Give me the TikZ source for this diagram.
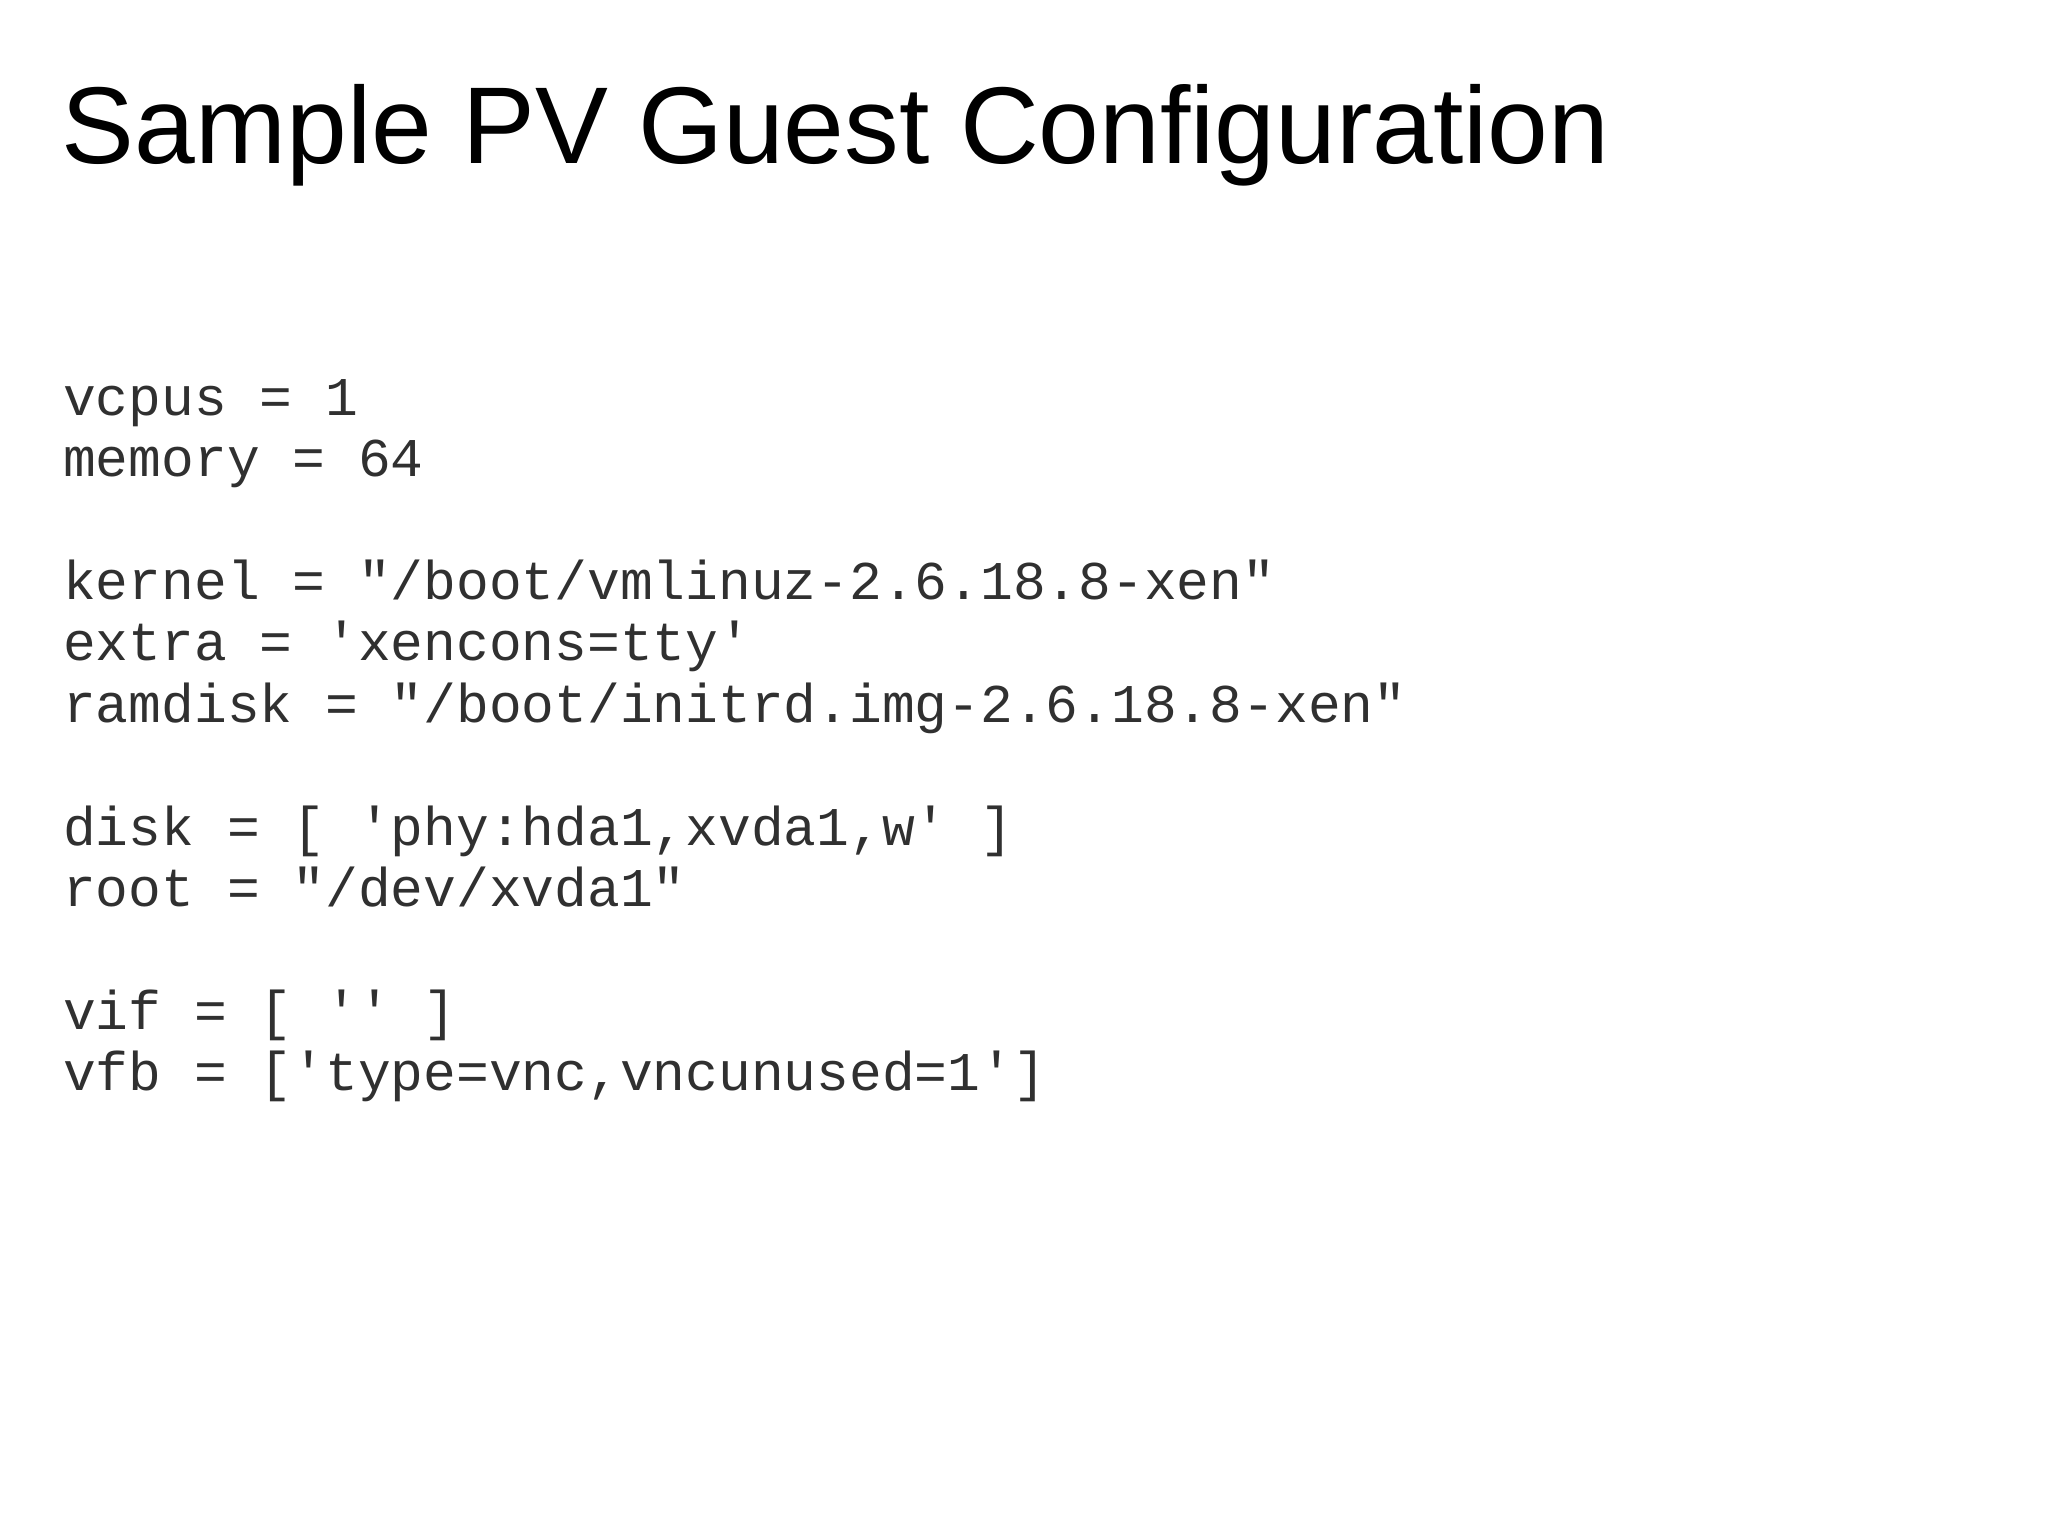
\documentclass[tikz,border=0pt]{standalone}
\usepackage{fontspec}
\setmainfont{Liberation Sans}
\newfontfamily\codefont{Liberation Mono}
\definecolor{codegray}{HTML}{303030}
\begin{document}
\begin{tikzpicture}[x=0.5pt,y=-0.5pt,
  codeline/.style={anchor=base west,inner sep=0pt,font=\codefont\fontsize{20.9}{23.5}\selectfont,text=codegray}]
\useasboundingbox (0,0) rectangle (1568,1176);
\node[anchor=base west,inner sep=0pt,font=\fontsize{41.8}{48}\selectfont] (title) at (47,125) {Sample PV Guest Configuration};
\node[codeline] (l1) at (48,318) {vcpus = 1};
\node[codeline] (l2) at (48,365) {memory = 64};
\node[codeline] (l3) at (48,459) {kernel = "/boot/vmlinuz-2.6.18.8-xen"};
\node[codeline] (l4) at (48,506) {extra = 'xencons=tty'};
\node[codeline] (l5) at (48,553) {ramdisk = "/boot/initrd.img-2.6.18.8-xen"};
\node[codeline] (l6) at (48,647) {disk = [ 'phy:hda1,xvda1,w' ]};
\node[codeline] (l7) at (48,694) {root = "/dev/xvda1"};
\node[codeline] (l8) at (48,788) {vif = [ '' ]};
\node[codeline] (l9) at (48,835) {vfb = ['type=vnc,vncunused=1']};
\end{tikzpicture}
\end{document}
